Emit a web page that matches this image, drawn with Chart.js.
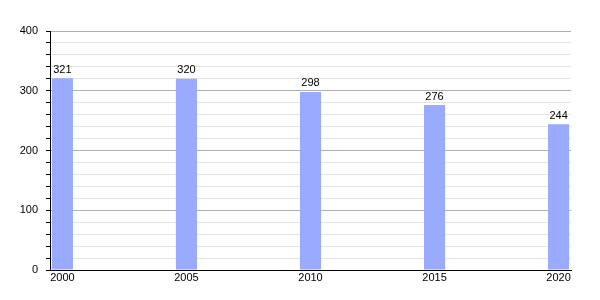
<!DOCTYPE html>
<html>
<head>
<meta charset="utf-8">
<script src="https://cdn.jsdelivr.net/npm/chart.js@4"></script>
<style>
  html, body { margin: 0; padding: 0; background: #fff; }
  #wrap { width: 600px; height: 300px; }
</style>
</head>
<body>
<div id="wrap"><canvas id="c" width="600" height="300"></canvas></div>
<script>
// values
const years = [2000, 2005, 2010, 2015, 2020];
const values = [321, 320, 298, 276, 244];
const yTicks = [0, 100, 200, 300, 400];

// one slot per year so the bars sit 5 years apart
const labels = [];
const data = [];
for (let y = years[0]; y <= years[years.length - 1]; y++) {
  labels.push(String(y));
  const i = years.indexOf(y);
  data.push(i >= 0 ? values[i] : null);
}

const barValues = {
  id: "barValues",
  afterDatasetsDraw(chart) {
    const ctx = chart.ctx;
    ctx.save();
    ctx.font = "11px 'Liberation Sans', Arial, sans-serif";
    ctx.fillStyle = "#000";
    ctx.textAlign = "center";
    ctx.textBaseline = "bottom";
    chart.getDatasetMeta(0).data.forEach((bar, i) => {
      if (data[i] == null) return;
      ctx.fillText(String(data[i]), bar.x, bar.y - 3);
    });
    ctx.restore();
  },
};

new Chart(document.getElementById("c"), {
  type: "bar",
  data: {
    labels: labels,
    datasets: [
      {
        data: data,
        backgroundColor: "#99aaff",
        barPercentage: 1,
        categoryPercentage: 0.85,
      },
    ],
  },
  options: {
    responsive: false,
    animation: false,
    layout: { padding: { top: 31, right: 29, left: 0, bottom: 0 } },
    plugins: {
      legend: { display: false },
      tooltip: { enabled: false },
    },
    scales: {
      x: {
        offset: true,
        grid: { display: false, drawTicks: false },
        border: { display: true, color: "#000", width: 1 },
        ticks: {
          autoSkip: false,
          maxRotation: 0,
          padding: 1,
          color: "#000",
          font: { family: "'Liberation Sans', Arial, sans-serif", size: 11 },
          callback: function (v, i) {
            const y = Number(labels[i]);
            return years.includes(y) ? labels[i] : "";
          },
        },
        afterFit: (s) => { s.height = 30; },
      },
      y: {
        min: yTicks[0],
        max: yTicks[yTicks.length - 1],
        border: { display: true, color: "#000", width: 1 },
        grid: {
          color: (c) => (c.tick && c.tick.value % 100 === 0 ? "#b0b0b0" : "#e4e4e4"),
          tickColor: "#000",
          tickLength: 4,
        },
        ticks: {
          stepSize: 20,
          autoSkip: false,
          padding: 8,
          color: "#000",
          font: { family: "'Liberation Sans', Arial, sans-serif", size: 11 },
          callback: (v) => (yTicks.includes(v) ? String(v) : ""),
        },
        afterFit: (s) => { s.width = 50; },
      },
    },
  },
  plugins: [barValues],
});
</script>
</body>
</html>
